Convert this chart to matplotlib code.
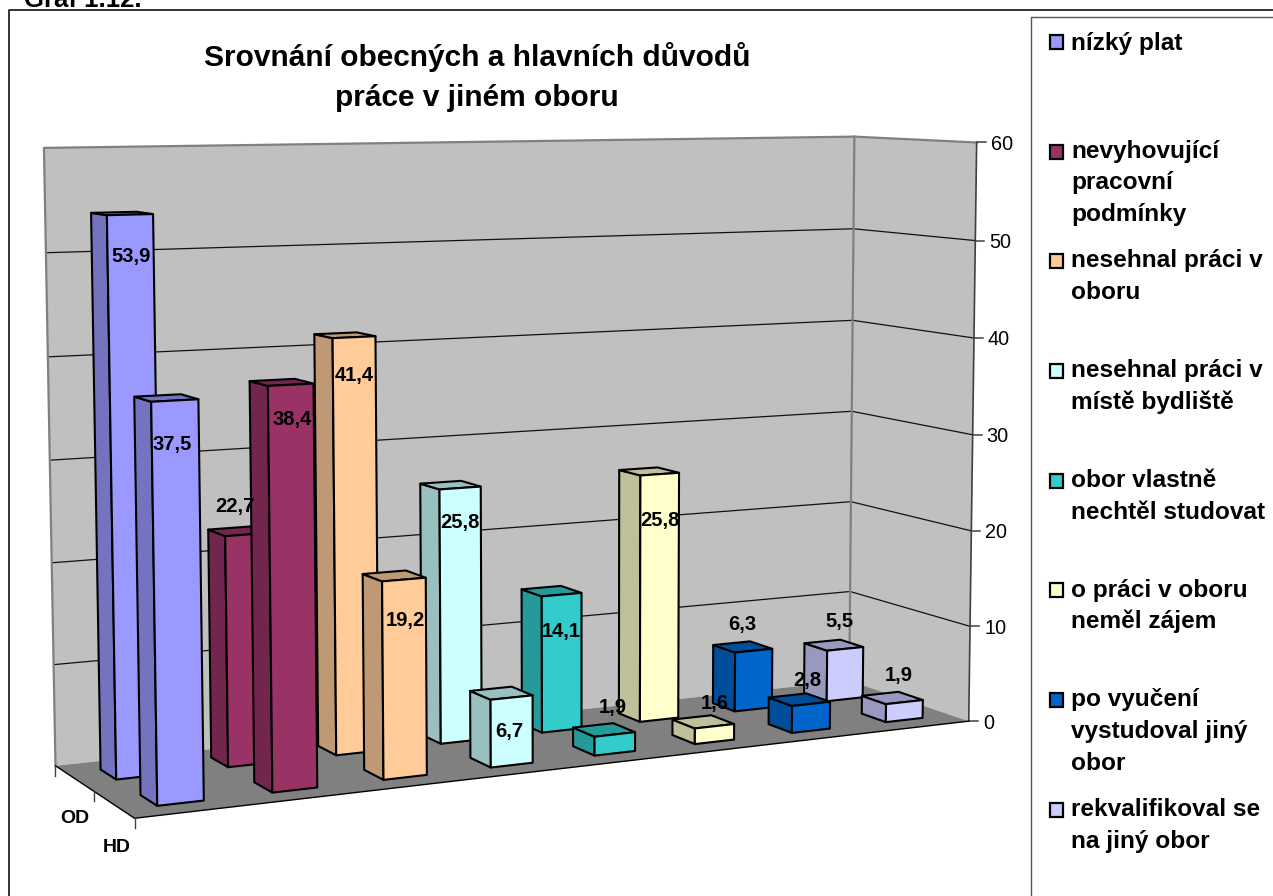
import numpy as np
import matplotlib
matplotlib.use('Agg')
import matplotlib.pyplot as plt

plt.rcParams['font.family'] = ['Liberation Sans', 'DejaVu Sans']

# Data
series = ['OD', 'HD']
od_values = [53.9, 22.7, 41.4, 25.8, 14.1, 25.8, 6.3, 5.5]
hd_values = [37.5, 38.4, 19.2, 6.7, 1.9, 1.6, 2.8, 1.9]
z_ticks = [0, 10, 20, 30, 40, 50, 60]
legend_labels = [['nízký plat'],
                 ['nevyhovující', 'pracovní', 'podmínky'],
                 ['nesehnal práci v', 'oboru'],
                 ['nesehnal práci v', 'místě bydliště'],
                 ['obor vlastně', 'nechtěl studovat'],
                 ['o práci v oboru', 'neměl zájem'],
                 ['po vyučení', 'vystudoval jiný', 'obor'],
                 ['rekvalifikoval se', 'na jiný obor']]
colors = ['#9999FF', '#993366', '#FFCC99', '#CCFFFF', '#33CCCC', '#FFFFCC', '#0066CC', '#CCCCFF']

# Label offsets from the front top centre of each bar (pixels)
od_label_dx = [1, -12, 0, 0, 0, 0, -11, -6]
od_label_dy = [42, -28, 38, 34, 37, 46, -26, -27]
hd_label_dx = [-3, 1, 1, -2, -2, 0, -4, -6]
hd_label_dy = [44, 35, 41, 34, -27, -23, -23, -27]

# Offsets of the OD / HD labels from the floor edge
series_dx = [1, 3]
series_dy = [40, 43]

n_cat = len(od_values)
bar_frac = 0.40

# Calibration of the view: (category, depth, value) -> picture pixel
world = np.array([[0, 0, 0], [0, 2, 0], [8, 0, 0], [8, 2, 0], [0, 2, 60], [8, 2, 60], [8, 0, 60]], dtype=float)
pixel = np.array([[135, 819], [55, 765], [968, 721], [850, 681], [44, 148], [854, 137], [977, 142]], dtype=float)

rows = []
rhs = []
for (x, y, z), (u, v) in zip(world, pixel):
    rows.append([x, y, z, 1, 0, 0, 0, 0, -u * x, -u * y, -u * z])
    rhs.append(u)
    rows.append([0, 0, 0, 0, x, y, z, 1, -v * x, -v * y, -v * z])
    rhs.append(v)
p = np.linalg.lstsq(np.array(rows), np.array(rhs), rcond=None)[0]
P = np.append(p, 1).reshape(3, 4)


def project(x, y, z):
    u, v, w = P @ np.array([x, y, z, 1.0])
    return u / w, v / w


def shade(color, k=0.75):
    rgb = np.array(matplotlib.colors.to_rgb(color))
    return tuple(rgb * k)


fig = plt.figure(figsize=(12.73, 8.96), dpi=100)
ax = fig.add_axes([0, 0, 1, 1])
ax.set_xlim(0, 1273)
ax.set_ylim(896, 0)
ax.axis('off')

# Walls and floor
back = [project(0, 2, 0), project(8, 2, 0), project(8, 2, 60), project(0, 2, 60)]
side = [project(8, 2, 0), project(8, 0, 0), project(8, 0, 60), project(8, 2, 60)]
floor = [project(0, 0, 0), project(8, 0, 0), project(8, 2, 0), project(0, 2, 0)]
ax.fill(*zip(*back), fc='#C0C0C0', ec='none', zorder=1)
ax.fill(*zip(*side), fc='#C0C0C0', ec='none', zorder=1)
ax.fill(*zip(*floor), fc='#808080', ec='none', zorder=1)

# Gridlines
for z in z_ticks[1:-1]:
    pts = [project(0, 2, z), project(8, 2, z), project(8, 0, z)]
    ax.plot(*zip(*pts), color='#111111', lw=0.9, zorder=2)

# Wall borders
pts = [project(0, 2, 0), project(0, 2, 60), project(8, 2, 60), project(8, 0, 60)]
ax.plot(*zip(*pts), color='#808080', lw=1.6, zorder=2)
pts = [project(8, 2, 0), project(8, 2, 60)]
ax.plot(*zip(*pts), color='#808080', lw=1.6, zorder=2)

# Value axis
pts = [project(8, 0, 0), project(8, 0, 60)]
ax.plot(*zip(*pts), color='#404040', lw=1.2, zorder=2)
for z in z_ticks:
    u, v = project(8, 0, z)
    ax.plot([u, u + 9], [v, v], color='#404040', lw=1.1, zorder=2)
    ax.text(u + 14, v, str(z), fontsize=14.3, ha='left', va='center_baseline', color='black')

# Floor edges and series axis
pts = [project(0, 2, 0), project(0, 0, 0), project(8, 0, 0)]
ax.plot(*zip(*pts), color='black', lw=1.0, zorder=2)
for y in [0, 1, 2]:
    u, v = project(0, y, 0)
    ax.plot([u, u], [v, v + 10], color='#404040', lw=1.0, zorder=2)
for name, y, dx, dy in zip(series, [1.5, 0.5], series_dx, series_dy):
    u, v = project(0, y, 0)
    ax.text(u + dx, v + dy, name, fontsize=14, fontweight='bold', ha='center', va='center')


def draw_bar(cat, row, value, color, order):
    gap = (1 - bar_frac) / 2
    x0, x1 = cat + gap, cat + 1 - gap
    y0, y1 = row + gap, row + 1 - gap
    front = [project(x0, y0, 0), project(x1, y0, 0), project(x1, y0, value), project(x0, y0, value)]
    left = [project(x0, y1, 0), project(x0, y0, 0), project(x0, y0, value), project(x0, y1, value)]
    top = [project(x0, y0, value), project(x1, y0, value), project(x1, y1, value), project(x0, y1, value)]
    for face, fc in zip([left, top, front], [shade(color), shade(color), color]):
        ax.fill(*zip(*face), fc=fc, ec='black', lw=1.5, joinstyle='round', zorder=order)


# Bars: back row first, right to left inside a row
order = 3
for row, values in [(1, od_values), (0, hd_values)]:
    for cat in range(n_cat - 1, -1, -1):
        draw_bar(cat, row, values[cat], colors[cat], order)
        order += 1

# Value labels
for row, values, dxs, dys in [(1, od_values, od_label_dx, od_label_dy), (0, hd_values, hd_label_dx, hd_label_dy)]:
    for cat in range(n_cat):
        gap = (1 - bar_frac) / 2
        u, v = project(cat + 0.5, row + gap, values[cat])
        label = f'{values[cat]:.1f}'.replace('.', ',')
        ax.text(u + dxs[cat], v + dys[cat], label, fontsize=14.5, fontweight='bold',
                ha='center', va='center', zorder=100)

# Title
ax.text(477, 57, 'Srovnání obecných a hlavních důvodů', fontsize=21.5, fontweight='bold', ha='center', va='center')
ax.text(477, 98, 'práce v jiném oboru', fontsize=21.5, fontweight='bold', ha='center', va='center')
ax.text(24, 7, 'Graf 1.12.', fontsize=18.5, fontweight='bold', ha='left', va='baseline')

# Outer frame
ax.plot([9, 9, 1273], [896, 10, 10], color='#333333', lw=1.4, clip_on=False)

# Legend
ax.plot([1031, 1031, 1273], [896, 17, 17], color='#555555', lw=1.0)
for i, lines in enumerate(legend_labels):
    yc = 42 + 109.7 * i
    ax.add_patch(plt.Rectangle((1049.5, yc - 7), 13.5, 14, fc=colors[i], ec='black', lw=1.6))
    for j, line in enumerate(lines):
        ax.text(1071, yc + (8 if len(lines) == 1 else 6) + 31.8 * j, line, fontsize=17.6, fontweight='bold',
                ha='left', va='baseline')

fig.savefig('out.png', dpi=100)
